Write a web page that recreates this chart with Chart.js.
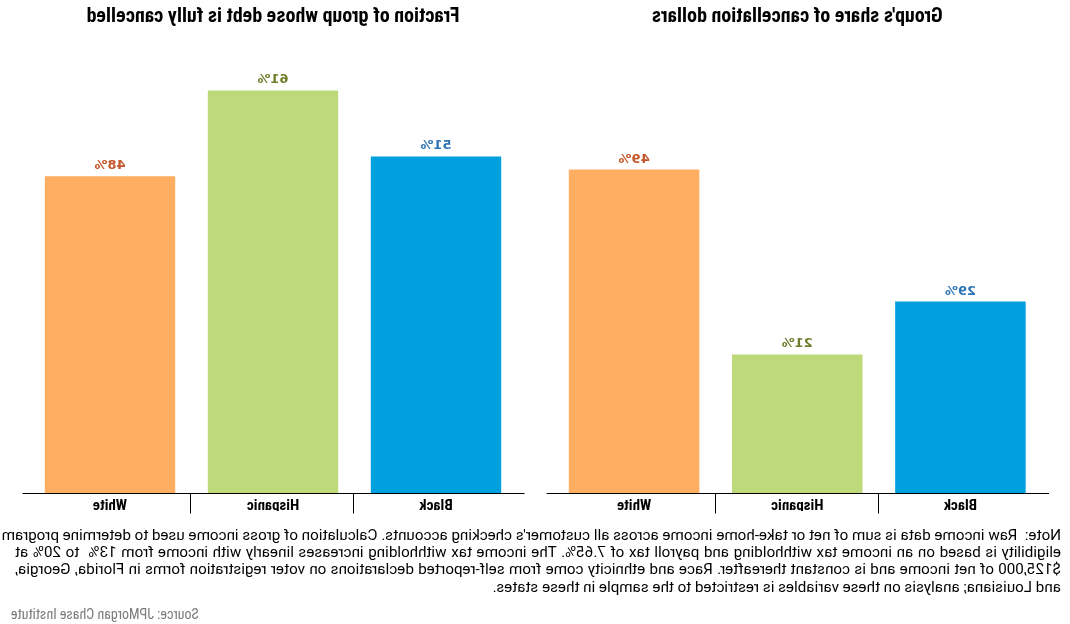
<!DOCTYPE html>
<html>
<head>
<meta charset="utf-8">
<script src="https://cdn.jsdelivr.net/npm/chart.js@4.4.1/dist/chart.umd.min.js"></script>
<style>
  html, body { margin: 0; padding: 0; background: #fff; }
  /* the reference is a mirror image, so the whole page is flipped */
  #page {
    position: relative; width: 1070px; height: 624px; overflow: hidden;
    transform: scaleX(-1);
  }
  canvas { position: absolute; top: 0; }
  #cDollars { left: 0; }
  #cFraction { left: 535px; }
  #note {
    position: absolute; left: 9px; top: 527px; width: 1046px;
    font-family: Roboto, sans-serif; font-size: 15.2px; line-height: 17.2px; color: #000;
  }
  #note div { text-align: justify; text-align-last: justify; white-space: nowrap; }
  #note div.last { text-align-last: left; }
  #source {
    position: absolute; right: 11px; top: 606px;
    font-family: "Roboto Condensed", Roboto, sans-serif; font-size: 14px; color: #7a7a7a;
  }
</style>
</head>
<body>
<div id="page">
  <canvas id="cDollars" width="535" height="520"></canvas>
  <canvas id="cFraction" width="535" height="520"></canvas>
  <div id="note">
    <div>Note:&nbsp; Raw income data is sum of net or take-home income across all customer's checking accounts. Calculation of gross income used to determine program</div>
    <div>eligibility is based on an income tax withholding and payroll tax of 7.65%. The income tax withholding increases linearly with income from 13%&nbsp; to 20% at</div>
    <div>$125,000 of net income and is constant thereafter. Race and ethnicity come from self-reported declarations on voter registration forms in Florida, Georgia,</div>
    <div class="last">and Louisiana; analysis on these variables is restricted to the sample in these states.</div>
  </div>
  <div id="source">Source: JPMorgan Chase Institute</div>
</div>
<script>
// groups, in the order they sit on the axis
const groups = ['Black', 'Hispanic', 'White'];

// percent values per group
const shareOfDollars = [29, 21, 49];
const fractionCancelled = [51, 61, 48];

const titleDollars = "Group's share of cancellation dollars";
const titleFraction = 'Fraction of group whose debt is fully cancelled';

const barColors = ['#00a0df', '#bed97a', '#ffad60'];
const labelColors = ['#2e75b6', '#6e7e2b', '#c4562a'];

const condensed = '"Roboto Condensed", Roboto, sans-serif';

// percent labels over each bar
const valueLabels = {
    id: 'valueLabels',
    afterDatasetsDraw(chart) {
        const ctx = chart.ctx;
        const meta = chart.getDatasetMeta(0);
        const values = chart.data.datasets[0].data;
        ctx.save();
        ctx.font = 'bold 13px "DejaVu Sans", sans-serif';
        ctx.textAlign = 'center';
        ctx.textBaseline = 'alphabetic';
        meta.data.forEach(function (bar, i) {
            ctx.fillStyle = labelColors[i];
            ctx.fillText(values[i] + '%', bar.x, bar.y - 7);
        });
        ctx.restore();
    }
};

// base line a little wider than the bars, and short dividers between the categories
const dividers = {
    id: 'dividers',
    afterDraw(chart) {
        const x = chart.scales.x;
        const ctx = chart.ctx;
        const y0 = Math.round(chart.chartArea.bottom) + 0.5;
        ctx.save();
        ctx.strokeStyle = '#000';
        ctx.lineWidth = 1;
        ctx.beginPath();
        ctx.moveTo(chart.chartArea.left - 7, y0);
        ctx.lineTo(chart.chartArea.right + 6, y0);
        for (let i = 1; i < groups.length; i++) {
            const px = Math.round((x.getPixelForTick(i - 1) + x.getPixelForTick(i)) / 2) + 0.5;
            ctx.moveTo(px, y0);
            ctx.lineTo(px, y0 + 20);
        }
        ctx.stroke();
        ctx.restore();
    }
};

function makeChart(id, title, values, pad) {
    const ctx = document.getElementById(id).getContext('2d');
    return new Chart(ctx, {
        type: 'bar',
        data: {
            labels: groups,
            datasets: [{
                data: values,
                backgroundColor: barColors,
                borderWidth: 0,
                barPercentage: 0.8,
                categoryPercentage: 1
            }]
        },
        options: {
            responsive: false,
            animation: false,
            layout: { padding: { top: 5, left: pad[0], right: pad[1], bottom: 9 } },
            plugins: {
                legend: { display: false },
                tooltip: { enabled: false },
                title: {
                    display: true,
                    text: title,
                    color: '#000',
                    font: { family: condensed, size: 20, weight: 'bold', lineHeight: 1.2 },
                    padding: { top: 0, bottom: 2 }
                }
            },
            scales: {
                x: {
                    grid: { display: false },
                    border: { display: false },
                    ticks: {
                        color: '#000',
                        padding: -4,
                        font: { family: condensed, size: 15, weight: 'bold', lineHeight: 1.2 }
                    }
                },
                y: { display: false, min: 0, max: 70 }
            }
        },
        plugins: [valueLabels, dividers]
    });
}

makeChart('cDollars', titleDollars, shareOfDollars, [28, 17.5]);
makeChart('cFraction', titleFraction, fractionCancelled, [17.5, 28.5]);
</script>
</body>
</html>
